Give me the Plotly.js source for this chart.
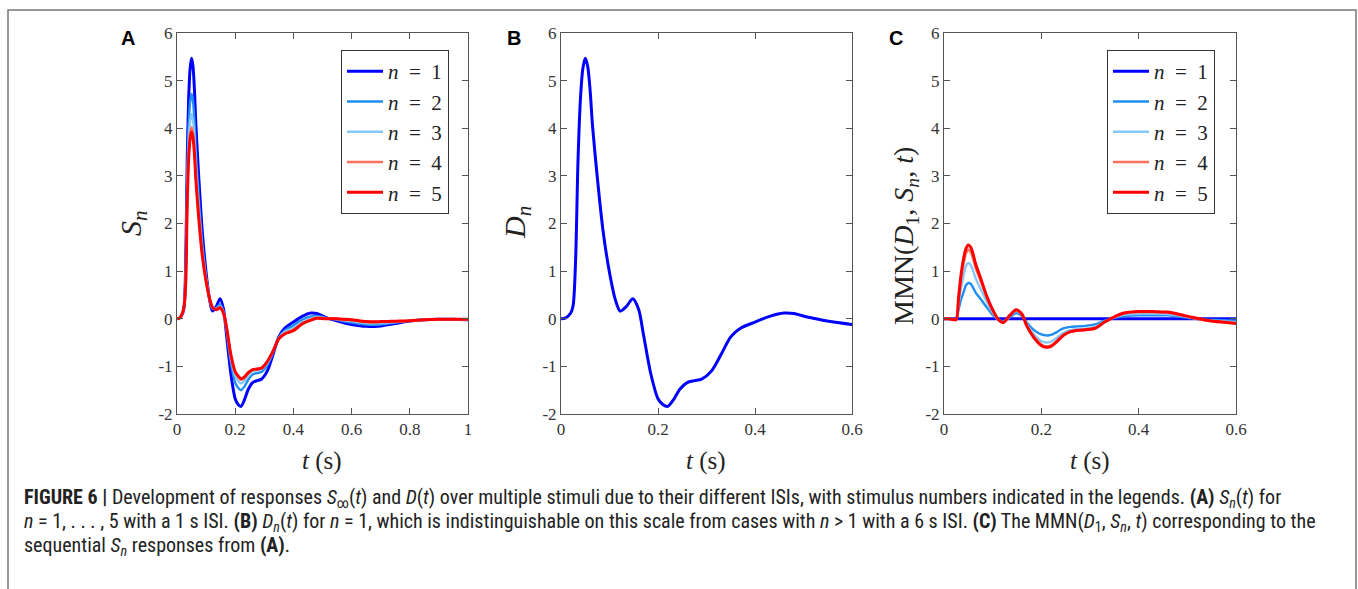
<!DOCTYPE html>
<html>
<head>
<meta charset="utf-8">
<script src="https://cdn.plot.ly/plotly-3.0.1.min.js"></script>
<style>
html,body{margin:0;padding:0;background:#fff;}
#chart{width:1358px;height:589px;}
</style>
</head>
<body>
<div id="chart"></div>
<script>
// ---- data ----
const tA = [0, 0.01, 0.02, 0.025, 0.03, 0.035, 0.04, 0.045, 0.05, 0.055, 0.06, 0.065, 0.075, 0.087, 0.1, 0.112, 0.122, 0.135, 0.148, 0.16, 0.17, 0.185, 0.2, 0.21, 0.22, 0.232, 0.245, 0.26, 0.275, 0.29, 0.31, 0.33, 0.35, 0.37, 0.4, 0.43, 0.46, 0.48, 0.51, 0.54, 0.57, 0.6, 0.65, 0.7, 0.75, 0.8, 0.85, 0.9, 0.95, 1.0];
const tC = [0, 0.01, 0.02, 0.025, 0.03, 0.035, 0.04, 0.045, 0.05, 0.055, 0.06, 0.065, 0.075, 0.087, 0.1, 0.112, 0.122, 0.135, 0.148, 0.16, 0.17, 0.185, 0.2, 0.21, 0.22, 0.232, 0.245, 0.26, 0.275, 0.29, 0.31, 0.33, 0.35, 0.37, 0.4, 0.43, 0.46, 0.48, 0.51, 0.54, 0.57, 0.6];

const S1 = [0, 0.02, 0.12, 0.28, 1.2, 3.3, 4.6, 5.25, 5.47, 5.3, 4.8, 4.05, 2.95, 1.82, 0.97, 0.4, 0.16, 0.26, 0.42, 0.2, -0.33, -1.15, -1.68, -1.8, -1.84, -1.7, -1.48, -1.34, -1.3, -1.27, -1.1, -0.75, -0.38, -0.2, -0.07, 0.05, 0.12, 0.11, 0.03, -0.03, -0.08, -0.12, -0.16, -0.15, -0.1, -0.05, -0.02, -0.01, -0.01, -0.02];
const S2 = [0, 0.02, 0.13, 0.29, 1.0, 2.9, 4.05, 4.55, 4.72, 4.57, 4.15, 3.5, 2.53, 1.57, 0.89, 0.42, 0.21, 0.23, 0.3, 0.15, -0.24, -0.91, -1.34, -1.45, -1.5, -1.42, -1.28, -1.17, -1.14, -1.12, -0.98, -0.71, -0.4, -0.25, -0.14, -0.02, 0.05, 0.06, 0.02, -0.01, -0.05, -0.08, -0.12, -0.12, -0.08, -0.04, -0.02, -0.01, -0.01, -0.02];
const S3 = [0, 0.02, 0.13, 0.3, 0.9, 2.65, 3.7, 4.15, 4.3, 4.17, 3.8, 3.2, 2.32, 1.44, 0.84, 0.42, 0.23, 0.21, 0.26, 0.13, -0.2, -0.82, -1.2, -1.3, -1.36, -1.3, -1.18, -1.1, -1.08, -1.06, -0.93, -0.69, -0.41, -0.28, -0.2, -0.08, 0.01, 0.04, 0.01, 0.0, -0.03, -0.05, -0.09, -0.09, -0.07, -0.04, -0.02, -0.01, -0.01, -0.01];
const S4 = [0, 0.02, 0.14, 0.3, 0.8, 2.45, 3.45, 3.88, 4.02, 3.9, 3.55, 2.98, 2.15, 1.35, 0.8, 0.42, 0.24, 0.2, 0.24, 0.12, -0.18, -0.77, -1.13, -1.22, -1.28, -1.24, -1.14, -1.07, -1.05, -1.03, -0.9, -0.68, -0.42, -0.31, -0.23, -0.1, -0.02, 0.02, 0.01, 0.01, -0.02, -0.03, -0.07, -0.07, -0.06, -0.04, -0.02, -0.01, -0.01, -0.01];
const S5 = [0, 0.02, 0.14, 0.3, 0.75, 2.38, 3.35, 3.78, 3.92, 3.8, 3.45, 2.9, 2.09, 1.32, 0.78, 0.42, 0.24, 0.19, 0.23, 0.11, -0.17, -0.75, -1.11, -1.2, -1.26, -1.22, -1.13, -1.07, -1.06, -1.04, -0.9, -0.68, -0.42, -0.32, -0.25, -0.11, -0.03, 0.01, 0.0, 0.0, -0.01, -0.02, -0.06, -0.06, -0.05, -0.04, -0.02, -0.01, -0.01, -0.01];

const D1 = [0, 0.02, 0.12, 0.28, 1.2, 3.3, 4.6, 5.25, 5.47, 5.3, 4.8, 4.05, 2.95, 1.82, 0.97, 0.4, 0.16, 0.26, 0.42, 0.2, -0.33, -1.15, -1.68, -1.8, -1.84, -1.7, -1.48, -1.34, -1.3, -1.27, -1.1, -0.75, -0.38, -0.2, -0.07, 0.05, 0.12, 0.11, 0.03, -0.03, -0.08, -0.12, -0.16, -0.15, -0.1, -0.05, -0.02, -0.01, -0.01, -0.02];

const M1 = [0, 0, 0, 0, 0, 0, 0, 0, 0, 0, 0, 0, 0, 0, 0, 0, 0, 0, 0, 0, 0, 0, 0, 0, 0, 0, 0, 0, 0, 0, 0, 0, 0, 0, 0, 0, 0, 0, 0, 0, 0, 0];
const M2 = [0, 0, -0.01, -0.01, 0.2, 0.4, 0.55, 0.7, 0.75, 0.73, 0.65, 0.55, 0.42, 0.25, 0.08, -0.02, -0.05, 0.03, 0.12, 0.06, -0.08, -0.24, -0.33, -0.35, -0.34, -0.28, -0.2, -0.17, -0.16, -0.15, -0.12, -0.04, 0.02, 0.05, 0.07, 0.07, 0.07, 0.05, 0.01, -0.02, -0.03, -0.04];
const M3 = [0, 0, -0.01, -0.02, 0.3, 0.65, 0.9, 1.1, 1.17, 1.13, 1.0, 0.85, 0.63, 0.38, 0.13, -0.02, -0.07, 0.05, 0.16, 0.08, -0.12, -0.33, -0.47, -0.5, -0.48, -0.4, -0.3, -0.24, -0.22, -0.21, -0.17, -0.06, 0.03, 0.08, 0.11, 0.11, 0.1, 0.07, 0.02, -0.03, -0.05, -0.07];
const M4 = [0, 0, -0.02, -0.02, 0.4, 0.85, 1.15, 1.37, 1.45, 1.4, 1.25, 1.07, 0.8, 0.47, 0.17, -0.02, -0.08, 0.06, 0.18, 0.09, -0.14, -0.38, -0.54, -0.58, -0.56, -0.46, -0.34, -0.27, -0.25, -0.24, -0.2, -0.07, 0.04, 0.11, 0.14, 0.14, 0.13, 0.09, 0.02, -0.04, -0.06, -0.09];
const M5 = [0, 0, -0.02, -0.02, 0.45, 0.92, 1.25, 1.47, 1.55, 1.5, 1.35, 1.15, 0.86, 0.5, 0.19, -0.02, -0.08, 0.07, 0.19, 0.1, -0.15, -0.4, -0.56, -0.6, -0.58, -0.48, -0.35, -0.27, -0.24, -0.23, -0.2, -0.07, 0.04, 0.12, 0.15, 0.15, 0.14, 0.1, 0.03, -0.03, -0.07, -0.1];

const seriesNames = ['<i>n</i>\u2002=\u20021', '<i>n</i>\u2002=\u20022', '<i>n</i>\u2002=\u20023', '<i>n</i>\u2002=\u20024', '<i>n</i>\u2002=\u20025'];
const yTickVals = [-2, -1, 0, 1, 2, 3, 4, 5, 6];
const yTickText = ['-2', '-1', '0', '1', '2', '3', '4', '5', '6'];
const xTickValsA = [0, 0.2, 0.4, 0.6, 0.8, 1];
const xTickTextA = ['0', '0.2', '0.4', '0.6', '0.8', '1'];
const xTickValsBC = [0, 0.2, 0.4, 0.6];
const xTickTextBC = ['0', '0.2', '0.4', '0.6'];

// ---- styles ----
const colors = ['#0000ff', '#1f8ef0', '#86c8f7', '#ff6f5e', '#ff0000'];
const widths = [3, 2.4, 2.4, 2.4, 3];
const serif = '"Liberation Serif", "Times New Roman", serif';
const sans = '"Liberation Sans", Arial, sans-serif';

const SA = [S1, S2, S3, S4, S5];
const MC = [M1, M2, M3, M4, M5];
const traces = [];
SA.forEach((y, i) => traces.push({
  x: tA, y: y, xaxis: 'x', yaxis: 'y', type: 'scatter', mode: 'lines',
  name: seriesNames[i], legend: 'legend',
  line: {color: colors[i], width: widths[i], shape: 'spline', smoothing: 0.8}
}));
traces.push({
  x: tA, y: D1, xaxis: 'x2', yaxis: 'y2', type: 'scatter', mode: 'lines',
  name: '<i>D</i><sub>1</sub>', showlegend: false,
  line: {color: colors[0], width: 3, shape: 'spline', smoothing: 0.8}
});
MC.forEach((y, i) => traces.push({
  x: tC, y: y, xaxis: 'x3', yaxis: 'y3', type: 'scatter', mode: 'lines',
  name: seriesNames[i], legend: 'legend2',
  line: {color: colors[i], width: widths[i], shape: 'spline', smoothing: 0.8}
}));

const W = 1358, H = 589;
const px = v => v / W, py = v => 1 - v / H;
const yDom = [py(414), py(33)];

function xaxis(dom, range, tv, tt, anchor) {
  return {domain: dom, range: range, anchor: anchor, tickvals: tv, ticktext: tt,
    ticks: 'inside', ticklen: 6, tickcolor: '#555', tickwidth: 1,
    showline: true, linecolor: '#555', linewidth: 1, mirror: 'ticks',
    showgrid: false, zeroline: false, automargin: false,
    tickfont: {family: serif, size: 17, color: '#333'}, fixedrange: true};
}
function yaxis(anchor) {
  return {domain: yDom, range: [-2, 6], anchor: anchor, tickvals: yTickVals, ticktext: yTickText,
    ticks: 'inside', ticklen: 6, tickcolor: '#555', tickwidth: 1,
    showline: true, linecolor: '#555', linewidth: 1, mirror: 'ticks',
    showgrid: false, zeroline: false, automargin: false,
    tickfont: {family: serif, size: 17, color: '#333'}, fixedrange: true};
}

function legend(xpix) {
  return {x: px(xpix), y: py(50), xanchor: 'left', yanchor: 'top',
    bgcolor: '#fff', bordercolor: '#333', borderwidth: 1,
    font: {family: serif, size: 21, color: '#222'},
    tracegroupgap: 0, itemwidth: 36};
}

const annotations = [
  {text: '<b>A</b>', x: px(128), y: py(38)},
  {text: '<b>B</b>', x: px(514), y: py(38)},
  {text: '<b>C</b>', x: px(896), y: py(38)}
].map(a => Object.assign(a, {xref: 'paper', yref: 'paper', showarrow: false,
  xanchor: 'center', yanchor: 'middle', font: {family: sans, size: 20, color: '#000'}}));

// axis titles
[322, 706, 1090].forEach(xc => annotations.push({
  text: '<i>t</i> (s)', x: px(xc), y: py(461), xref: 'paper', yref: 'paper',
  showarrow: false, xanchor: 'center', yanchor: 'middle',
  font: {family: serif, size: 25, color: '#222'}}));
annotations.push({text: '<i>S<sub>n</sub></i>', x: px(133), y: py(223), xref: 'paper', yref: 'paper',
  showarrow: false, textangle: -90, xanchor: 'center', yanchor: 'middle',
  font: {family: serif, size: 30, color: '#222'}});
annotations.push({text: '<i>D<sub>n</sub></i>', x: px(517), y: py(223), xref: 'paper', yref: 'paper',
  showarrow: false, textangle: -90, xanchor: 'center', yanchor: 'middle',
  font: {family: serif, size: 30, color: '#222'}});
annotations.push({text: 'MMN(<i>D</i><sub>1</sub>, <i>S<sub>n</sub></i>, <i>t</i>)', x: px(905), y: py(236), xref: 'paper', yref: 'paper',
  showarrow: false, textangle: -90, xanchor: 'center', yanchor: 'middle',
  font: {family: serif, size: 28, color: '#222'}});

// caption
const captionLines = [
  '<b>FIGURE 6 |</b> Development of responses <i>S</i><sub>∞</sub>(<i>t</i>) and <i>D</i>(<i>t</i>) over multiple stimuli due to their different ISIs, with stimulus numbers indicated in the legends. <b>(A)</b> <i>S<sub>n</sub></i>(<i>t</i>) for',
  '<i>n</i> = 1, . . . , 5 with a 1 s ISI. <b>(B)</b> <i>D<sub>n</sub></i>(<i>t</i>) for <i>n</i> = 1, which is indistinguishable on this scale from cases with <i>n</i> > 1 with a 6 s ISI. <b>(C)</b> The MMN(<i>D</i><sub>1</sub>, <i>S<sub>n</sub></i>, <i>t</i>) corresponding to the',
  'sequential <i>S<sub>n</sub></i> responses from <b>(A)</b>.'
];
const captionY = [498, 522, 546];
captionLines.forEach((txt, i) => annotations.push({
  text: txt, x: px(22), y: py(captionY[i]), xref: 'paper', yref: 'paper',
  showarrow: false, xanchor: 'left', yanchor: 'middle', align: 'left',
  font: {family: '"Liberation Sans Narrow", "Roboto Condensed", Roboto, sans-serif', size: 20, color: '#222'}}));

const layout = {
  width: W, height: H, margin: {l: 0, r: 0, t: 0, b: 0},
  paper_bgcolor: '#fff', plot_bgcolor: '#fff',
  showlegend: true,
  xaxis: xaxis([px(177), px(468)], [0, 1], xTickValsA, xTickTextA, 'y'),
  yaxis: yaxis('x'),
  xaxis2: xaxis([px(561), px(852)], [0, 0.6], xTickValsBC, xTickTextBC, 'y2'),
  yaxis2: yaxis('x2'),
  xaxis3: xaxis([px(944), px(1236)], [0, 0.6], xTickValsBC, xTickTextBC, 'y3'),
  yaxis3: yaxis('x3'),
  legend: legend(341),
  legend2: legend(1107),
  annotations: annotations,
  shapes: [{type: 'rect', xref: 'paper', yref: 'paper', x0: px(8), x1: px(1356), y0: -0.05, y1: py(10),
    line: {color: '#777', width: 1.5}, fillcolor: 'rgba(0,0,0,0)'}]
};

Plotly.newPlot('chart', traces, layout, {displayModeBar: false, staticPlot: true});
</script>
</body>
</html>
